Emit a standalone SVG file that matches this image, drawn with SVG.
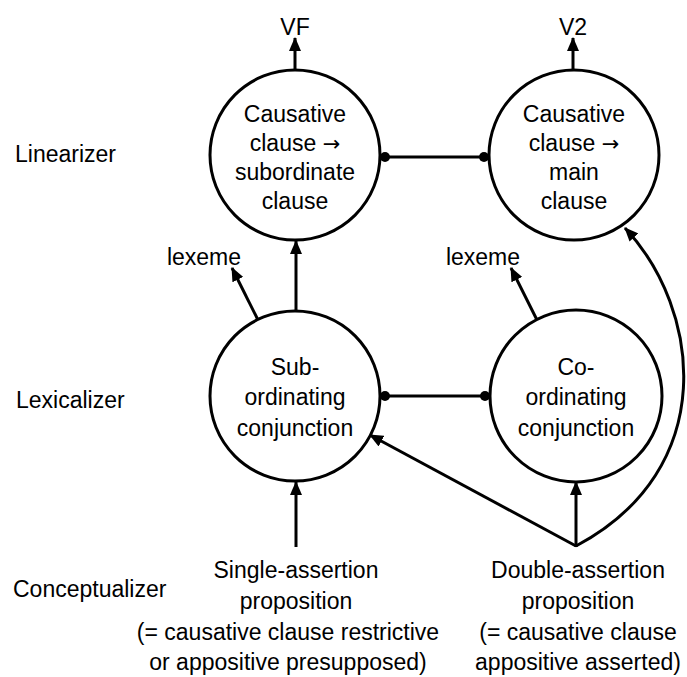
<svg xmlns="http://www.w3.org/2000/svg" width="687" height="677" viewBox="0 0 687 677">
<style>
text{font-family:"Liberation Sans",Arial,sans-serif;font-size:23px;fill:#000}
.c{text-anchor:middle}
.arr{font-family:"DejaVu Sans",sans-serif;font-size:21px}
.node{fill:#fff;stroke:#000;stroke-width:3}
.ln{fill:none;stroke:#000;stroke-width:3}
.dot{fill:#000}
</style>
<defs>
<marker id="ah" markerUnits="userSpaceOnUse" markerWidth="14" markerHeight="12" viewBox="0 0 14 12" refX="13" refY="6" orient="auto">
<path d="M0,0 L14,6 L0,12 Z" fill="#000"/>
</marker>
</defs>
<rect width="687" height="677" fill="#fff"/>
<g id="labels">
<text x="15" y="162">Linearizer</text>
<text x="16" y="408">Lexicalizer</text>
<text x="13" y="597">Conceptualizer</text>
</g>
<g id="connectors">
<line class="ln" x1="295" y1="70" x2="295" y2="38" marker-end="url(#ah)"/>
<line class="ln" x1="573" y1="70" x2="573" y2="38" marker-end="url(#ah)"/>
<line class="ln" x1="385" y1="157" x2="484" y2="157"/>
<circle class="dot" cx="385" cy="157" r="5"/>
<circle class="dot" cx="484" cy="157" r="5"/>
<line class="ln" x1="385" y1="396" x2="485" y2="396"/>
<circle class="dot" cx="385" cy="396" r="5"/>
<circle class="dot" cx="485" cy="396" r="5"/>
<line class="ln" x1="296" y1="311" x2="296" y2="241" marker-end="url(#ah)"/>
<line class="ln" x1="258" y1="320" x2="232" y2="268" marker-end="url(#ah)"/>
<line class="ln" x1="537" y1="320" x2="511" y2="268" marker-end="url(#ah)"/>
<line class="ln" x1="296" y1="547" x2="296" y2="482" marker-end="url(#ah)"/>
<line class="ln" x1="576" y1="547" x2="576" y2="482" marker-end="url(#ah)"/>
<line class="ln" x1="576" y1="546" x2="370" y2="435" marker-end="url(#ah)"/>
<path class="ln" d="M576,546 C721,469 701,309 625,228" marker-end="url(#ah)"/>
</g>
<g id="out-labels">
<text class="c" x="295" y="35">VF</text>
<text class="c" x="573" y="35">V2</text>
<text class="c" x="204" y="265">lexeme</text>
<text class="c" x="483" y="265">lexeme</text>
</g>
<g id="n-causative-sub">
<circle class="node" cx="295" cy="155" r="85"/>
<text class="c" x="295" y="122">Causative</text>
<text class="c" x="295" y="151">clause <tspan class="arr">→</tspan></text>
<text class="c" x="295" y="180">subordinate</text>
<text class="c" x="295" y="209">clause</text>
</g>
<g id="n-causative-main">
<circle class="node" cx="574" cy="155" r="85"/>
<text class="c" x="574" y="122">Causative</text>
<text class="c" x="574" y="151">clause <tspan class="arr">→</tspan></text>
<text class="c" x="574" y="180">main</text>
<text class="c" x="574" y="209">clause</text>
</g>
<g id="n-subordinating">
<circle class="node" cx="295" cy="396" r="85"/>
<text class="c" x="295" y="375">Sub-</text>
<text class="c" x="295" y="405">ordinating</text>
<text class="c" x="295" y="436">conjunction</text>
</g>
<g id="n-coordinating">
<circle class="node" cx="576" cy="396" r="86"/>
<text class="c" x="576" y="375">Co-</text>
<text class="c" x="576" y="405">ordinating</text>
<text class="c" x="576" y="436">conjunction</text>
</g>
<g id="n-single">
<text class="c" x="296" y="578">Single-assertion</text>
<text class="c" x="296" y="609">proposition</text>
<text class="c" x="288" y="640">(= causative clause restrictive</text>
<text class="c" x="288" y="670">or appositive presupposed)</text>
</g>
<g id="n-double">
<text class="c" x="578" y="578">Double-assertion</text>
<text class="c" x="578" y="609">proposition</text>
<text class="c" x="578" y="640">(= causative clause</text>
<text class="c" x="578" y="670">appositive asserted)</text>
</g>
</svg>
